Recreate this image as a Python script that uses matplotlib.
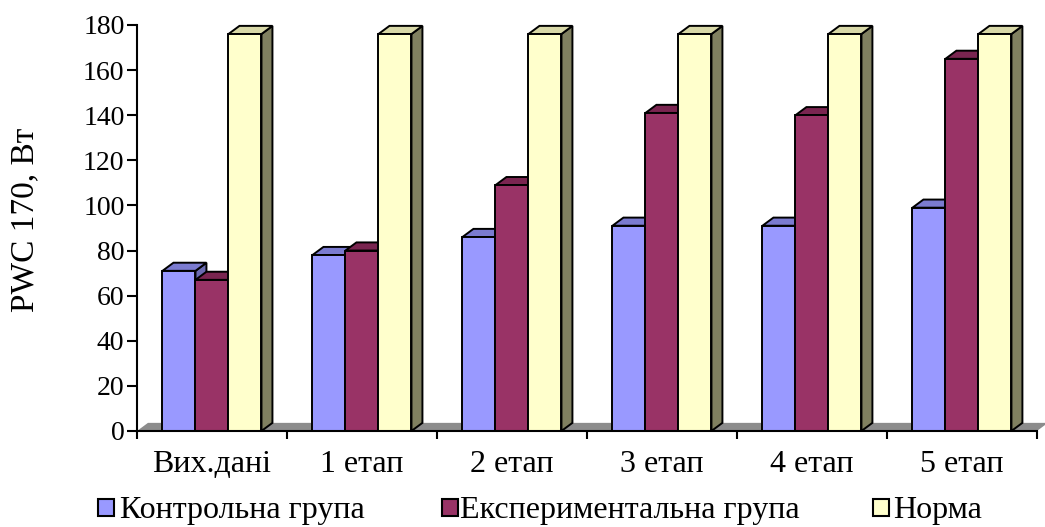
import matplotlib.pyplot as plt
from matplotlib.patches import Polygon, Rectangle

plt.rcParams['font.family'] = ['Liberation Serif', 'DejaVu Serif']

stages = ['Вих.дані', '1 етап', '2 етап', '3 етап', '4 етап', '5 етап']
control = [71, 78, 86, 91, 91, 99]
experimental = [67, 80, 109, 141, 140, 165]
norm = [176, 176, 176, 176, 176, 176]
series_names = ['Контрольна група', 'Експериментальна група', 'Норма']
yticks = [0, 20, 40, 60, 80, 100, 120, 140, 160, 180]

# front / top / side colours for each series
front_colors = ['#9999ff', '#993366', '#ffffcc']
top_colors = ['#7b7bd0', '#7a2550', '#d8d8a8']
side_colors = ['#6a6ab0', '#6a1f45', '#808060']

bar_w = 0.22
dx = 0.073   # depth offset along x (category units)
dy = 3.6     # depth offset along y (data units)
serif = ['Liberation Serif', 'DejaVu Serif']


def bar3d(ax, x, h, c, z):
    fc, tc, sc = front_colors[c], top_colors[c], side_colors[c]
    x0, x1 = x - bar_w / 2, x + bar_w / 2
    side = Polygon([(x1, 0), (x1 + dx, dy), (x1 + dx, h + dy), (x1, h)],
                   closed=True, facecolor=sc, edgecolor='black', lw=1.4,
                   zorder=z, clip_on=False)
    top = Polygon([(x0, h), (x0 + dx, h + dy), (x1 + dx, h + dy), (x1, h)],
                  closed=True, facecolor=tc, edgecolor='black', lw=1.4,
                  zorder=z, clip_on=False)
    ax.add_patch(side)
    ax.add_patch(top)
    ax.bar(x, h, width=bar_w, color=fc, edgecolor='black', lw=1.4,
           zorder=z + 0.1, clip_on=False)


fig = plt.figure(figsize=(10.45, 5.27), dpi=100)
ax = fig.add_axes([0.1311, 0.1822, 0.8612, 0.7704])

n = len(stages)
# grey floor under the bars
floor = Polygon([(0, 0), (n, 0), (n + dx, dy), (dx, dy)], closed=True,
                facecolor='#8c8c8c', edgecolor='none', zorder=1, clip_on=False)
ax.add_patch(floor)

series = [control, experimental, norm]
offsets = [-bar_w, 0, bar_w]
for i in range(n):
    for s in range(3):
        bar3d(ax, i + 0.5 + offsets[s], series[s][i], s, 2 + i * 3 + s)

ax.set_xlim(0, n)
ax.set_ylim(0, 180)
ax.set_yticks(yticks)
ax.set_xticks(range(n + 1))
ax.set_xticklabels([])
ax.set_xticks([i + 0.5 for i in range(n)], minor=True)
ax.set_xticklabels(stages, minor=True, family=serif)
ax.tick_params(axis='x', which='minor', length=0, pad=14, labelsize=23)
ax.tick_params(axis='x', which='major', length=6, width=1.5, direction='out')
ax.tick_params(axis='y', length=7, width=1.5, direction='out', labelsize=20, pad=2)

for sp in ['top', 'right']:
    ax.spines[sp].set_visible(False)
for sp in ['left', 'bottom']:
    ax.spines[sp].set_linewidth(1.5)
    ax.spines[sp].set_zorder(50)

ax.set_ylabel('PWC 170, Вт', fontsize=24, family=serif)
ax.yaxis.set_label_coords(-0.108, 0.52)

# legend row along the bottom
legend_box_x = [0.0935, 0.4225, 0.8355]
legend_text_x = [0.115, 0.440, 0.855]
for k, name in enumerate(series_names):
    fig.patches.append(Rectangle((legend_box_x[k], 0.0209), 0.0153, 0.032,
                                 transform=fig.transFigure,
                                 facecolor=front_colors[k], edgecolor='black',
                                 lw=1.5))
    fig.text(legend_text_x[k], 0.0171, name, fontsize=23, va='baseline',
             ha='left', family=serif)

fig.savefig('out.png', dpi=100)
